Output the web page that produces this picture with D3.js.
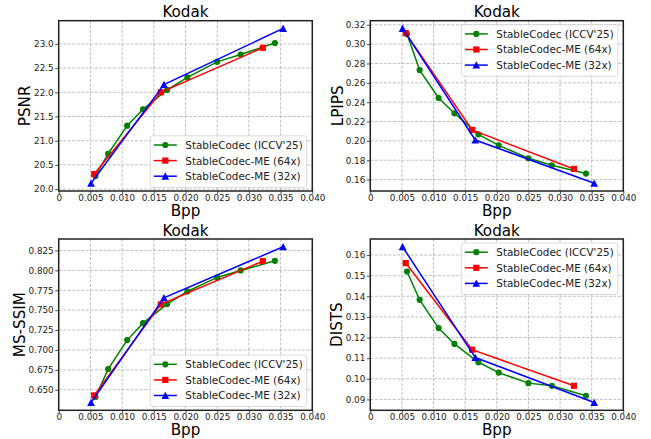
<!DOCTYPE html>
<html>
<head>
<meta charset="utf-8">
<script src="https://cdn.jsdelivr.net/npm/d3@7"></script>
<style>
  body { margin: 0; background: #fff; }
  svg { display: block; font-family: "DejaVu Sans", sans-serif; }
</style>
</head>
<body>
<div id="chart"></div>
<script>
// Series names
const SERIES = ["StableCodec (ICCV'25)", "StableCodec-ME (64x)", "StableCodec-ME (32x)"];

// Bpp per method
const bppGreen = [0.0058, 0.0078, 0.0108, 0.0133, 0.0171, 0.0203, 0.0250, 0.0287, 0.0341];
const bppRed = [0.0056, 0.0161, 0.0322];
const bppBlue = [0.0051, 0.0166, 0.0354];

// Metrics
const psnrGreen = [20.27, 20.73, 21.31, 21.65, 22.05, 22.31, 22.63, 22.78, 23.02];
const psnrRed = [20.31, 22.0, 22.92];
const psnrBlue = [20.12, 22.16, 23.32];

const lpipsGreen = [0.3104, 0.2732, 0.2443, 0.2285, 0.2068, 0.1954, 0.182, 0.1748, 0.1662];
const lpipsRed = [0.3114, 0.2113, 0.171];
const lpipsBlue = [0.3162, 0.2009, 0.1562];

const msssimGreen = [0.641, 0.676, 0.7124, 0.7337, 0.7576, 0.7735, 0.7911, 0.7999, 0.812];
const msssimRed = [0.6429, 0.7572, 0.8116];
const msssimBlue = [0.634, 0.7656, 0.8296];

const distsGreen = [0.152, 0.1383, 0.1246, 0.1169, 0.108, 0.103, 0.0979, 0.0966, 0.0918];
const distsRed = [0.1561, 0.1141, 0.0966];
const distsBlue = [0.164, 0.1103, 0.0885];

// Tick labels
const xTicks = [0, 0.005, 0.01, 0.015, 0.02, 0.025, 0.03, 0.035, 0.04];
const psnrTicks = [20.0, 20.5, 21.0, 21.5, 22.0, 22.5, 23.0];
const lpipsTicks = [0.16, 0.18, 0.2, 0.22, 0.24, 0.26, 0.28, 0.3, 0.32];
const msssimTicks = [0.65, 0.675, 0.7, 0.725, 0.75, 0.775, 0.8, 0.825];
const distsTicks = [0.09, 0.1, 0.11, 0.12, 0.13, 0.14, 0.15, 0.16];

const W = 651, H = 439;
const COLORS = ["green", "red", "blue"];
const MARKERS = ["circle", "square", "triangle"];

const svg = d3.select("#chart").append("svg").attr("width", W).attr("height", H);

const panels = [
  { label: "PSNR", ys: [psnrGreen, psnrRed, psnrBlue], ticks: psnrTicks, fmt: ".1f",
    box: { l: 58.7, r: 312.3, t: 20.7, b: 191 }, ylx: 25, leg: "lower" },
  { label: "LPIPS", ys: [lpipsGreen, lpipsRed, lpipsBlue], ticks: lpipsTicks, fmt: ".2f",
    box: { l: 370.3, r: 623.3, t: 20.7, b: 191 }, ylx: 337.5, leg: "upper" },
  { label: "MS-SSIM", ys: [msssimGreen, msssimRed, msssimBlue], ticks: msssimTicks, fmt: ".3f",
    box: { l: 58.7, r: 312.3, t: 239, b: 410.3 }, ylx: 20, leg: "lower" },
  { label: "DISTS", ys: [distsGreen, distsRed, distsBlue], ticks: distsTicks, fmt: ".2f",
    box: { l: 370.3, r: 623.3, t: 239, b: 410.3 }, ylx: 336.5, leg: "upper" },
];
const bpps = [bppGreen, bppRed, bppBlue];

function marker(g, type, x, y, color, s) {
  if (type === "circle") {
    g.append("circle").attr("cx", x).attr("cy", y).attr("r", s * 0.55).attr("fill", color);
  } else if (type === "square") {
    g.append("rect").attr("x", x - s * 0.5).attr("y", y - s * 0.5)
      .attr("width", s).attr("height", s).attr("fill", color);
  } else {
    const h = s * 0.62;
    g.append("path")
      .attr("d", `M${x},${y - h}L${x + h},${y + h * 0.9}L${x - h},${y + h * 0.9}Z`)
      .attr("fill", color);
  }
}

panels.forEach((p) => {
  const b = p.box;
  const all = p.ys.flat();
  const lo = d3.min(all), hi = d3.max(all), m = (hi - lo) * 0.05;

  const x = d3.scaleLinear().domain([0, 0.04]).range([b.l, b.r]);
  const y = d3.scaleLinear().domain([lo - m, hi + m]).range([b.b, b.t]);

  const g = svg.append("g");

  // Grid
  g.selectAll(".gx").data(xTicks).enter().append("line")
    .attr("x1", (d) => x(d)).attr("x2", (d) => x(d))
    .attr("y1", b.t).attr("y2", b.b)
    .attr("stroke", "#b0b0b0").attr("stroke-width", 0.8).attr("stroke-dasharray", "3,1.5");
  g.selectAll(".gy").data(p.ticks).enter().append("line")
    .attr("x1", b.l).attr("x2", b.r)
    .attr("y1", (d) => y(d)).attr("y2", (d) => y(d))
    .attr("stroke", "#b0b0b0").attr("stroke-width", 0.8).attr("stroke-dasharray", "3,1.5");

  // Axes
  const xAxis = d3.axisBottom(x).tickValues(xTicks).tickSize(3).tickPadding(0.5)
    .tickFormat((d) => (d === 0 ? "0" : d3.format(".3f")(d)));
  const yAxis = d3.axisLeft(y).tickValues(p.ticks).tickSize(3.5).tickPadding(1.5)
    .tickFormat(d3.format(p.fmt));

  const ax = g.append("g").attr("transform", `translate(0,${b.b})`).call(xAxis);
  const ay = g.append("g").attr("transform", `translate(${b.l},0)`).call(yAxis);
  [ax, ay].forEach((a) => {
    a.select(".domain").remove();
    a.selectAll("line").attr("stroke", "#222").attr("stroke-width", 0.8);
    a.selectAll("text").attr("fill", "#222").style("font-size", "8.8px")
      .style("font-family", "DejaVu Sans");
  });

  // Series (clipped to axes)
  const clipId = "clip-" + p.label;
  g.append("clipPath").attr("id", clipId).append("rect")
    .attr("x", b.l).attr("y", b.t).attr("width", b.r - b.l).attr("height", b.b - b.t);
  const plot = g.append("g");
  const line = d3.line().x((d) => x(d[0])).y((d) => y(d[1]));
  p.ys.forEach((vals, i) => {
    const pts = vals.map((v, j) => [bpps[i][j], v]);
    plot.append("path").attr("d", line(pts)).attr("fill", "none")
      .attr("stroke", COLORS[i]).attr("stroke-width", 1.5);
    pts.forEach((d) => marker(plot, MARKERS[i], x(d[0]), y(d[1]), COLORS[i], i === 0 ? 5.6 : 6.2));
  });

  // Frame
  g.append("rect").attr("x", b.l).attr("y", b.t)
    .attr("width", b.r - b.l).attr("height", b.b - b.t)
    .attr("fill", "none").attr("stroke", "#222").attr("stroke-width", 1.5);

  // Title & labels
  g.append("text").attr("x", (b.l + b.r) / 2).attr("y", b.t - 3.5)
    .attr("text-anchor", "middle").style("font-size", "15.2px").text("Kodak");
  g.append("text").attr("x", (b.l + b.r) / 2).attr("y", b.b + 25)
    .attr("text-anchor", "middle").style("font-size", "15.2px").text("Bpp");
  g.append("text")
    .attr("transform", `translate(${p.ylx},${(b.t + b.b) / 2}) rotate(-90)`)
    .attr("text-anchor", "middle").attr("dominant-baseline", "central")
    .style("font-size", "15.2px").text(p.label);

  // Legend
  const LW = 156.5, LH = 51.5;
  const lx = b.r - 5.5 - LW;
  const ly = p.leg === "lower" ? b.b - 3.7 - LH : b.t + 4;
  const leg = g.append("g").attr("transform", `translate(${lx},${ly})`);
  leg.append("rect").attr("width", LW).attr("height", LH).attr("rx", 2.5)
    .attr("fill", "#fff").attr("fill-opacity", 0.8)
    .attr("stroke", "#d0d0d0").attr("stroke-width", 0.8);
  SERIES.forEach((s, i) => {
    const cy = 9.2 + i * 15.6;
    leg.append("line").attr("x1", 3.5).attr("x2", 26.5).attr("y1", cy).attr("y2", cy)
      .attr("stroke", COLORS[i]).attr("stroke-width", 1.5);
    marker(leg, MARKERS[i], 15, cy, COLORS[i], i === 0 ? 5.6 : 6.2);
    leg.append("text").attr("x", 35).attr("y", cy).attr("dominant-baseline", "central")
      .style("font-size", "10.4px").attr("fill", "#222").text(s);
  });
});
</script>
</body>
</html>
